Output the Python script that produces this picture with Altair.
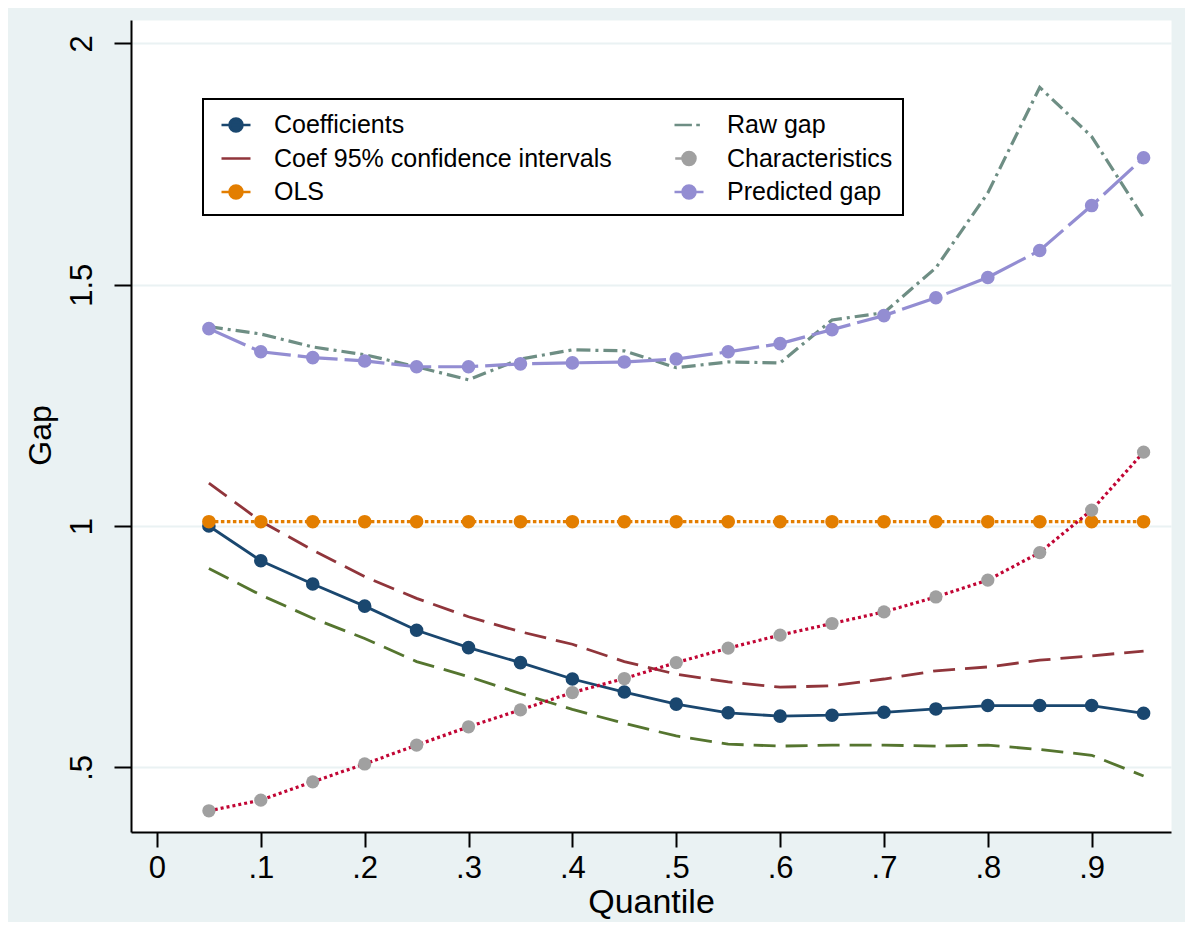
import altair as alt
import pandas as pd

# ---------------- data ----------------
quantiles = [0.05, 0.10, 0.15, 0.20, 0.25, 0.30, 0.35, 0.40, 0.45, 0.50,
             0.55, 0.60, 0.65, 0.70, 0.75, 0.80, 0.85, 0.90, 0.95]
coefficients = [1.000, 0.928, 0.880, 0.834, 0.784, 0.748, 0.717, 0.683, 0.656, 0.631,
                0.613, 0.606, 0.608, 0.614, 0.621, 0.628, 0.628, 0.628, 0.612]
ci_upper = [1.089, 1.010, 0.950, 0.895, 0.850, 0.812, 0.781, 0.755, 0.719, 0.693,
            0.677, 0.666, 0.669, 0.683, 0.700, 0.708, 0.722, 0.731, 0.741]
ci_lower = [0.912, 0.857, 0.809, 0.767, 0.719, 0.688, 0.653, 0.620, 0.591, 0.565,
            0.548, 0.544, 0.546, 0.546, 0.544, 0.546, 0.537, 0.525, 0.482]
ols = [1.009, 1.009, 1.009, 1.009, 1.009, 1.009, 1.009, 1.009, 1.009, 1.009,
       1.009, 1.009, 1.009, 1.009, 1.009, 1.009, 1.009, 1.009, 1.009]
raw_gap = [1.413, 1.398, 1.371, 1.355, 1.330, 1.303, 1.346, 1.365, 1.363, 1.328,
           1.340, 1.338, 1.427, 1.442, 1.535, 1.690, 1.909, 1.807, 1.639]
characteristics = [0.410, 0.432, 0.470, 0.507, 0.546, 0.584, 0.619, 0.655, 0.684, 0.717,
                   0.747, 0.774, 0.798, 0.822, 0.853, 0.888, 0.945, 1.033, 1.153]
predicted_gap = [1.409, 1.361, 1.349, 1.342, 1.330, 1.330, 1.336, 1.338, 1.340, 1.346,
                 1.361, 1.378, 1.407, 1.436, 1.473, 1.515, 1.571, 1.664, 1.763]

x_ticks = [0, 0.1, 0.2, 0.3, 0.4, 0.5, 0.6, 0.7, 0.8, 0.9]
x_tick_labels = ["0", ".1", ".2", ".3", ".4", ".5", ".6", ".7", ".8", ".9"]
y_ticks = [0.5, 1, 1.5, 2]
y_tick_labels = [".5", "1", "1.5", "2"]

# legend entries (column by column: left column first)
legend_names = ["Coefficients", "Coef 95% confidence intervals", "OLS",
                "Raw gap", "Characteristics", "Predicted gap"]

# ---------------- styling ----------------
FONT = "Liberation Sans"
NAVY = "#1a476f"
MAROON = "#90353b"
GREEN = "#55752f"
ORANGE = "#e37e00"
TEAL = "#6e8e84"
CRANBERRY = "#c10534"
GRAY = "#a0a0a0"
LAVENDER = "#938dd2"
BG = "#eaf2f3"

CIRCLE = "M-0.45,0A0.45,0.45 0 1,0 0.45,0A0.45,0.45 0 1,0 -0.45,0Z"
legend_fill = [NAVY, MAROON, ORANGE, TEAL, GRAY, LAVENDER]
legend_stroke = [NAVY, MAROON, ORANGE, TEAL, GRAY, LAVENDER]
legend_shape = [
    "M-1,0L1,0" + CIRCLE,
    "M-1,0L1,0",
    "M-1,0L-0.5,0M0.5,0L1,0" + CIRCLE,
    "M-1,0L0.2,0M0.5,0L0.75,0",
    "M-0.95,0L-0.5,0" + CIRCLE,
    "M-1,0L1,0" + CIRCLE,
]


def label_expr(vals, labels):
    expr = "''"
    for v, l in reversed(list(zip(vals, labels))):
        expr = f"abs(datum.value - {v}) < 1e-6 ? '{l}' : " + expr
    return expr


x_axis = alt.Axis(values=x_ticks, labelExpr=label_expr(x_ticks, x_tick_labels),
                  title="Quantile", grid=False, domainColor="black", domainWidth=2,
                  tickColor="black", tickWidth=2, tickSize=15, labelFont=FONT,
                  labelFontSize=31, labelColor="black", labelPadding=6, labelAngle=0,
                  labelFlush=False, labelOverlap=False,
                  titleFont=FONT, titleFontSize=34, titleFontWeight="normal",
                  titleColor="black", titleX=520, titleY=70, titleAlign="center",
                  titleBaseline="middle")
y_axis = alt.Axis(values=y_ticks, labelExpr=label_expr(y_ticks, y_tick_labels),
                  title="Gap", grid=True, gridColor=BG, gridWidth=2,
                  domainColor="black", domainWidth=2, tickColor="black", tickWidth=2,
                  tickSize=17, labelFont=FONT, labelFontSize=31, labelColor="black",
                  labelAngle=270, labelAlign="center", labelBaseline="bottom",
                  labelPadding=16, labelFlush=False, labelOverlap=False,
                  titleFont=FONT, titleFontSize=32, titleFontWeight="normal",
                  titleColor="black", titleAngle=270, titleX=-91, titleY=415,
                  titleAlign="center", titleBaseline="middle")

X = alt.X("q:Q", scale=alt.Scale(domain=[-0.025, 0.9764], nice=False, zero=False), axis=x_axis)
Y = alt.Y("v:Q", scale=alt.Scale(domain=[0.366, 2.0485], nice=False, zero=False), axis=y_axis)


def frame(values):
    return pd.DataFrame({"q": quantiles, "v": values})


def line(values, color, width, dash=None, cap="butt"):
    kw = dict(color=color, strokeWidth=width, strokeCap=cap, clip=True)
    if dash:
        kw["strokeDash"] = dash
    return alt.Chart(frame(values)).mark_line(**kw).encode(x=X, y=Y)


def points(values, color, size=185):
    return alt.Chart(frame(values)).mark_circle(color=color, size=size, opacity=1).encode(x=X, y=Y)


layers = [
    line(coefficients, NAVY, 2.8),
    points(coefficients, NAVY),
    line(ci_upper, MAROON, 2.8, [22, 10]),
    line(ci_lower, GREEN, 2.8, [22, 10]),
    line(ols, ORANGE, 3.2, [3.5, 2.5]),
    points(ols, ORANGE),
    line(raw_gap, TEAL, 3.2, [14, 5, 3, 5]),
    line(characteristics, CRANBERRY, 3.2, [3, 3]),
    points(characteristics, GRAY, 175),
    line(predicted_gap, LAVENDER, 3.2, [40, 7]),
    points(predicted_gap, LAVENDER),
]

leg = alt.Legend(title=None, orient="none", legendX=72, legendY=79, columns=2,
                 columnPadding=54, rowPadding=4.5, padding=10, symbolOffset=7,
                 strokeColor="black", fillColor="white", labelFont=FONT,
                 labelFontSize=25, labelColor="black", labelLimit=600, labelOffset=22,
                 symbolSize=841, symbolStrokeWidth=2.5, labelBaseline="middle")

legend_df = pd.DataFrame({"series": legend_names})
legend_layer = alt.Chart(legend_df).transform_filter("false").mark_point(
    filled=True, opacity=1, strokeWidth=2.5, size=841
).encode(
    fill=alt.Fill("series:N", scale=alt.Scale(domain=legend_names, range=legend_fill), legend=leg),
    stroke=alt.Stroke("series:N", scale=alt.Scale(domain=legend_names, range=legend_stroke), legend=leg),
    shape=alt.Shape("series:N", scale=alt.Scale(domain=legend_names, range=legend_shape), legend=leg),
)

chart = alt.layer(*layers, legend_layer).properties(
    width=1040, height=812,
    padding={"left": 123, "top": 12, "right": 14, "bottom": 90},
    autosize=alt.AutoSizeParams(type="none"),
    background=BG,
    view=alt.ViewBackground(fill="white", stroke="transparent"),
).configure_view(fill="white", stroke="transparent").configure_legend(strokeWidth=2)

chart.save("out.html", embed_options={"renderer": "svg", "actions": False})
